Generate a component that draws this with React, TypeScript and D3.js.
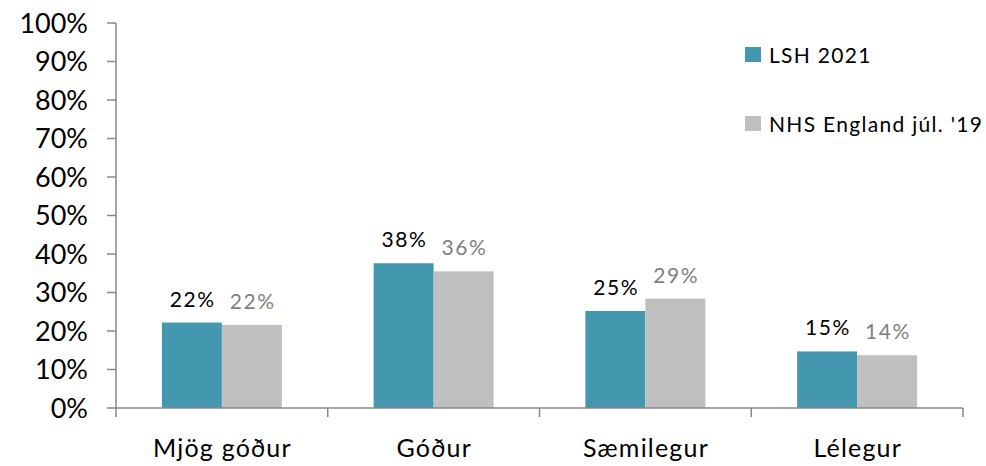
import React from "react";
import * as d3 from "d3";

const categories = ["Mjög góður", "Góður", "Sæmilegur", "Lélegur"];
const seriesNames = ["LSH 2021", "NHS England júl. '19"];
const lsh2021 = [0.222, 0.376, 0.252, 0.147];
const nhsEngland = [0.216, 0.355, 0.284, 0.137];
const lshLabels = ["22%", "38%", "25%", "15%"];
const nhsLabels = ["22%", "36%", "29%", "14%"];
const yTicks = [0, 0.1, 0.2, 0.3, 0.4, 0.5, 0.6, 0.7, 0.8, 0.9, 1.0];

const colors = ["#4397AE", "#BFBFBF"];
const labelColors = ["#000000", "#7F7F7F"];
const axisColor = "#898989";
const font = "Lato, 'Open Sans', sans-serif";

export default function App() {
  const width = 986;
  const height = 466;
  const y = d3.scaleLinear().domain([0, 1]).range([408, 23]);
  const x0 = d3.scaleBand<string>().domain(categories).range([116, 963]).paddingInner(0).paddingOuter(0);
  const x1 = d3.scaleBand<string>().domain(seriesNames).range([0, x0.bandwidth()]).paddingInner(0).paddingOuter(0.765);
  const series = [lsh2021, nhsEngland];
  const labels = [lshLabels, nhsLabels];
  const fmt = d3.format(".0%");
  const catTicks = [...categories.map((c) => x0(c) as number), 963];

  return (
    <svg width={width} height={height} style={{ position: "absolute", left: 0, top: 0, background: "#fff" }} fontFamily={font}>
      {/* y axis */}
      <line x1={116} x2={116} y1={y(1)} y2={y(0)} stroke={axisColor} strokeWidth={1.5} />
      {yTicks.map((t) => (
        <g key={t}>
          <line x1={107} x2={116} y1={y(t)} y2={y(t)} stroke={axisColor} strokeWidth={1.5} />
          <text x={88} y={y(t)} dy="0.36em" textAnchor="end" fontSize={27} fill="#000">
            {fmt(t)}
          </text>
        </g>
      ))}
      {/* bars */}
      {series.map((vals, si) =>
        vals.map((v, ci) => {
          const bx = (x0(categories[ci]) as number) + (x1(seriesNames[si]) as number);
          return (
            <rect key={`${si}-${ci}`} x={bx} y={y(v)} width={x1.bandwidth()} height={y(0) - y(v)} fill={colors[si]} />
          );
        })
      )}
      {/* data labels */}
      {series.map((vals, si) =>
        vals.map((v, ci) => {
          const bx = (x0(categories[ci]) as number) + (x1(seriesNames[si]) as number) + x1.bandwidth() / 2;
          return (
            <text key={`l${si}-${ci}`} x={bx + 0.8} y={y(v) - 16} textAnchor="middle" fontSize={21} letterSpacing={1.6} fill={labelColors[si]}>
              {labels[si][ci]}
            </text>
          );
        })
      )}
      {/* x axis */}
      <line x1={116} x2={963} y1={y(0)} y2={y(0)} stroke={axisColor} strokeWidth={1.5} />
      {catTicks.map((t, i) => (
        <line key={i} x1={t} x2={t} y1={y(0)} y2={y(0) + 9} stroke={axisColor} strokeWidth={1.5} />
      ))}
      {categories.map((c) => (
        <text key={c} x={(x0(c) as number) + x0.bandwidth() / 2 + 0.6} y={457} textAnchor="middle" fontSize={25} letterSpacing={1.2} fill="#000">
          {c}
        </text>
      ))}
      {/* legend */}
      {seriesNames.map((s, i) => (
        <g key={s} transform={`translate(745, ${47 + i * 69})`}>
          <rect x={0} y={0} width={16} height={15} fill={colors[i]} />
          <text x={24} y={15.5} fontSize={21} letterSpacing={1.3} fill="#000">
            {s}
          </text>
        </g>
      ))}
    </svg>
  );
}
